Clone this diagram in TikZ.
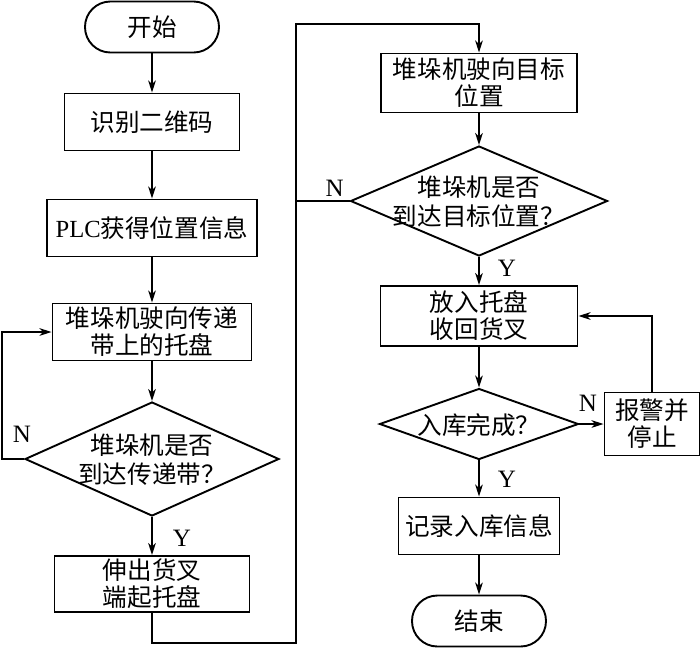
\documentclass[tikz,border=0pt]{standalone}
\usepackage{fontspec}
\setmainfont{Liberation Serif}
\newfontfamily\cjk{Noto Sans CJK SC}
\usetikzlibrary{arrows.meta,positioning,shapes.geometric}
\newcommand{\dlines}[1]{\makebox[0pt]{\raisebox{-4.8pt}[0pt][0pt]{\begin{tabular}{@{}c@{}}#1\end{tabular}}}}
\tikzset{%
	startstop/.style = {draw, rectangle, rounded corners=12.7pt, minimum width=67pt, minimum height=25.5pt, text centered},
	process/.style   = {draw, rectangle, minimum height=28.5pt, inner sep=0pt, align=center},
	decision/.style  = {draw, diamond, inner sep=0pt, text centered},
	waypoint/.style  = {coordinate},
	yn/.style        = {inner sep=0pt, font=\fontsize{12.5pt}{14pt}\selectfont\rmfamily},
}
\begin{document}
\begin{tikzpicture}[node distance=50pt,auto,>={Stealth[length=6pt,width=3.8pt,inset=1.8pt]},line width=0.95pt,
	font=\fontsize{12.3pt}{13.5pt}\selectfont\cjk]
	\useasboundingbox (-76pt,13.5pt) rectangle (274pt,-311pt);
	% left column
	\node [startstop] (start) {开始};
	\node [process,minimum width=87.5pt] (scan) [below of=start,node distance=47.5pt] {识别二维码};
	\node [process,minimum width=105pt] (plc) [below of=scan,node distance=53pt] {{\rmfamily PLC}获得位置信息};
	\node [process,minimum width=99.5pt] (pick) [below of=plc,node distance=52pt] {堆垛机驶向传递\\带上的托盘};
	\node [decision,minimum width=127pt,minimum height=57pt] (chk1) [below of=pick,node distance=63.5pt] {\dlines{堆垛机是否\\到达传递带？}};
	\node [process,minimum width=97.5pt,minimum height=28pt] (fork) [below of=chk1,node distance=62.5pt] {伸出货叉\\端起托盘};
	\node [waypoint] (nl) [left of=chk1,node distance=75pt] {};
	\node [waypoint] (b1) [below of=fork,node distance=29.5pt] {};
	\node [waypoint] (b2) [right of=b1,node distance=72pt] {};
	% right column
	\node [waypoint] (t1) [right of=start,node distance=163.5pt,yshift=1.5pt] {};
	\node [process,minimum width=98pt,minimum height=29.5pt] (goto) [below of=t1,node distance=29.5pt] {堆垛机驶向目标\\位置};
	\node [decision,minimum width=128.5pt,minimum height=55pt] (chk2) [below of=goto,node distance=59pt] {\dlines{堆垛机是否\\到达目标位置？}};
	\node [process,minimum width=98.5pt,minimum height=30pt] (place) [below of=chk2,node distance=57.5pt] {放入托盘\\收回货叉};
	\node [decision,minimum width=99.5pt,minimum height=35.5pt] (chk3) [below of=place,node distance=54pt] {\dlines{入库完成？}};
	\node [process,minimum width=47.5pt,minimum height=31.5pt] (alarm) [right of=chk3,node distance=86.5pt] {报警并\\停止};
	\node [process,minimum width=80.5pt] (rec) [below of=chk3,node distance=51pt] {记录入库信息};
	\node [startstop] (stop) [below of=rec,node distance=47.5pt] {结束};

	\draw[->] (start) -- (scan);
	\draw[->] (scan) -- (plc);
	\draw[->] (plc) -- (pick);
	\draw[->] (pick) -- (chk1);
	\draw[->] (chk1) -- node[yn,pos=0.55,right=10pt] {Y} (fork);
	\draw[->] (chk1.west) -- node[yn,pos=0.1,above=8pt] {N} (nl) |- (pick.west);
	\draw[->] (fork) -- (b1) -- (b2) |- (t1) -- (goto);
	\draw[->] (goto) -- (chk2);
	\draw (chk2.west) -- node[yn,pos=0,above left=2pt and 2.5pt] {N} (chk2.west -| b2);
	\draw[->] (chk2) -- node[yn,pos=0.4,right=9pt] {Y} (place);
	\draw[->] (place) -- (chk3);
	\draw[->] (chk3) -- node[yn,pos=0.53,right=9pt] {Y} (rec);
	\draw[->] (chk3) -- node[yn,pos=0.35,above=6pt] {N} (alarm);
	\draw[->] (alarm) |- (place);
	\draw[->] (rec) -- (stop);
\end{tikzpicture}
\end{document}
